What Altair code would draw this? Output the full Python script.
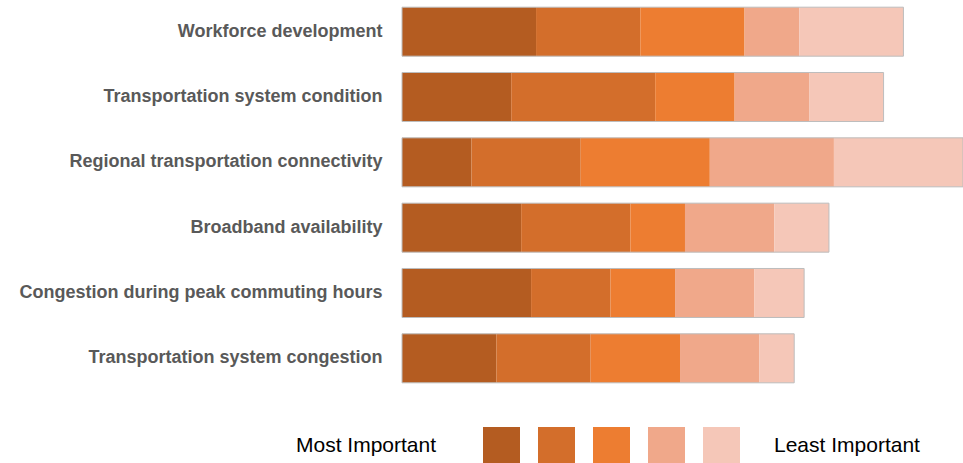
import altair as alt
import pandas as pd

# Survey topics, top to bottom
tasks = [
    "Workforce development",
    "Transportation system condition",
    "Regional transportation connectivity",
    "Broadband availability",
    "Congestion during peak commuting hours",
    "Transportation system congestion",
]

# Number of respondents giving each importance rank (1 = most important)
rank_1 = [27, 22, 14, 24, 26, 19]
rank_2 = [21, 29, 22, 22, 16, 19]
rank_3 = [21, 16, 26, 11, 13, 18]
rank_4 = [11, 15, 25, 18, 16, 16]
rank_5 = [21, 15, 26, 11, 10, 7]

rank_names = ["1", "2", "3", "4", "5"]
rank_colors = ["#B45C21", "#D36E2B", "#ED7D31", "#F0A88A", "#F5C7B8"]

rows = []
for name, series in zip(rank_names, [rank_1, rank_2, rank_3, rank_4, rank_5]):
    for task, count in zip(tasks, series):
        rows.append({"task": task, "rank": name, "order": int(name), "count": count})
df = pd.DataFrame(rows)

LABEL_FONT = "Liberation Sans"

y_enc = alt.Y(
    "task:N",
    sort=tasks,
    title=None,
    scale=alt.Scale(paddingInner=0.25, paddingOuter=0.11),
    axis=alt.Axis(
        domain=False,
        ticks=False,
        labelPadding=20,
        labelFont=LABEL_FONT,
        labelFontSize=18,
        labelFontWeight="bold",
        labelColor="#595959",
        labelLimit=0,
    ),
)

x_scale = alt.Scale(domain=[0, 113], nice=False, zero=True)

bars = alt.Chart(df).mark_bar().encode(
    y=y_enc,
    x=alt.X("sum(count):Q", stack="zero", scale=x_scale, axis=None, title=None),
    color=alt.Color(
        "rank:N",
        scale=alt.Scale(domain=rank_names, range=rank_colors),
        legend=alt.Legend(
            orient="none",
            legendX=-106,
            legendY=427,
            direction="horizontal",
            symbolType="square",
            symbolSize=1369,
            symbolStrokeWidth=0,
            symbolOpacity=1,
            labelExpr="''",
            labelOffset=0,
            columnPadding=18,
            title="Most Important",
            titleOrient="left",
            titleFont=LABEL_FONT,
            titleFontSize=21,
            titleFontWeight="normal",
            titleColor="#000000",
            titlePadding=46,
            titleBaseline="middle",
        ),
    ),
    order=alt.Order("order:Q", sort="ascending"),
)

# thin grey frame around each full bar
outline = (
    alt.Chart(df)
    .transform_aggregate(total="sum(count)", groupby=["task"])
    .mark_bar(filled=False, stroke="#BDBDBD", strokeWidth=1)
    .encode(
        y=alt.Y("task:N", sort=tasks),
        x=alt.X("total:Q", scale=x_scale),
    )
)

end_label = (
    alt.Chart(pd.DataFrame({"label": ["Least Important"]}))
    .mark_text(
        align="left",
        baseline="middle",
        font=LABEL_FONT,
        fontSize=21,
        color="#000000",
    )
    .encode(text="label:N", x=alt.value(372), y=alt.value(446))
)

chart = (
    alt.layer(bars, outline, end_label)
    .properties(
        width=561,
        height=390,
        padding={"left": 402, "top": 0, "right": 0, "bottom": 73},
        autosize=alt.AutoSizeParams(type="none"),
    )
    .configure_view(stroke=None)
)

chart.save("out.html", embed_options={"renderer": "svg", "actions": False})
